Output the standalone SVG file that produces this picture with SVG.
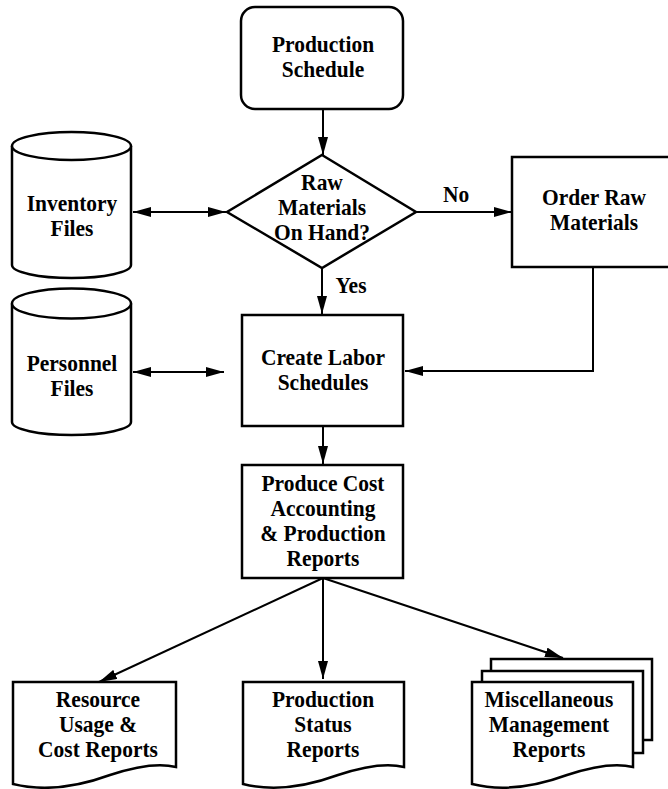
<svg xmlns="http://www.w3.org/2000/svg" width="668" height="789" viewBox="0 0 668 789">
<style>
.shape{fill:#fff;stroke:#000;stroke-width:2.5}
.conn{fill:none;stroke:#000;stroke-width:2}
.t{font-family:"Liberation Serif","Times New Roman",serif;font-weight:bold;font-size:22.5px;fill:#000;text-anchor:middle}
</style>
<defs>
<marker id="ah" viewBox="0 0 18 10" refX="18" refY="5" markerWidth="18" markerHeight="10" markerUnits="userSpaceOnUse" orient="auto-start-reverse">
<path d="M0,0 L18,5 L0,10 z" fill="#000"/>
</marker>
</defs>
<rect width="668" height="789" fill="#fff"/>

<g id="connectors">
<line class="conn" x1="323" y1="109" x2="323" y2="155" marker-end="url(#ah)"/>
<line class="conn" x1="133" y1="212" x2="226" y2="212" marker-start="url(#ah)" marker-end="url(#ah)"/>
<line class="conn" x1="416" y1="212" x2="512" y2="212" marker-end="url(#ah)"/>
<line class="conn" x1="322" y1="268" x2="322" y2="314" marker-end="url(#ah)"/>
<polyline class="conn" points="593,267 593,371 405,371" marker-end="url(#ah)"/>
<line class="conn" x1="133" y1="372" x2="224" y2="372" marker-start="url(#ah)" marker-end="url(#ah)"/>
<line class="conn" x1="323" y1="426" x2="323" y2="464" marker-end="url(#ah)"/>
<line class="conn" x1="323" y1="578" x2="99" y2="682" marker-end="url(#ah)"/>
<line class="conn" x1="323" y1="578" x2="323" y2="679" marker-end="url(#ah)"/>
<line class="conn" x1="323" y1="578" x2="563" y2="658" marker-end="url(#ah)"/>
<text class="t" transform="translate(456 0) scale(0.955 1)" x="0" y="202">No</text>
<text class="t" transform="translate(351 0) scale(0.955 1)" x="0" y="293">Yes</text>
</g>

<g id="production-schedule">
<rect class="shape" x="241" y="7" width="162" height="102" rx="14"/>
<text class="t" transform="translate(323 0) scale(0.955 1)"><tspan x="0" y="52">Production</tspan><tspan x="0" y="77">Schedule</tspan></text>
</g>

<g id="raw-materials-decision">
<polygon class="shape" points="322,155 416,212 322,268 227,212"/>
<text class="t" transform="translate(322 0) scale(0.955 1)"><tspan x="0" y="190">Raw</tspan><tspan x="0" y="215">Materials</tspan><tspan x="0" y="240">On Hand?</tspan></text>
</g>

<g id="inventory-files">
<path class="shape" d="M12,146 V265 A59.5,13 0 0 0 131,265 V146"/>
<ellipse class="shape" cx="71.5" cy="146" rx="59.5" ry="14"/>
<text class="t" transform="translate(72 0) scale(0.955 1)"><tspan x="0" y="211">Inventory</tspan><tspan x="0" y="236">Files</tspan></text>
</g>

<g id="order-raw-materials">
<rect class="shape" x="512" y="157" width="175" height="110"/>
<text class="t" transform="translate(594 0) scale(0.955 1)"><tspan x="0" y="205">Order Raw</tspan><tspan x="0" y="230">Materials</tspan></text>
</g>

<g id="personnel-files">
<path class="shape" d="M12,303.5 V422 A59.5,13 0 0 0 131,422 V303.5"/>
<ellipse class="shape" cx="71.5" cy="303.5" rx="59.5" ry="15"/>
<text class="t" transform="translate(72 0) scale(0.955 1)"><tspan x="0" y="371">Personnel</tspan><tspan x="0" y="396">Files</tspan></text>
</g>

<g id="create-labor-schedules">
<rect class="shape" x="242" y="315" width="161" height="111"/>
<text class="t" transform="translate(323 0) scale(0.955 1)"><tspan x="0" y="365">Create Labor</tspan><tspan x="0" y="390">Schedules</tspan></text>
</g>

<g id="produce-reports">
<rect class="shape" x="242" y="465" width="161" height="113"/>
<text class="t" transform="translate(323 0) scale(0.955 1)"><tspan x="0" y="491">Produce Cost</tspan><tspan x="0" y="516">Accounting</tspan><tspan x="0" y="541">&amp; Production</tspan><tspan x="0" y="566">Reports</tspan></text>
</g>

<g id="resource-usage-report">
<path class="shape" d="M13,682 H176 V767 C160,763 140,765 110,775 C80,786 45,792 13,784 Z"/>
<text class="t" transform="translate(98 0) scale(0.955 1)"><tspan x="0" y="707">Resource</tspan><tspan x="0" y="732">Usage &amp;</tspan><tspan x="0" y="757">Cost Reports</tspan></text>
</g>

<g id="production-status-report">
<path class="shape" d="M243,682 H404 V767 C388,763 368,765 338,775 C308,786 275,792 243,784 Z"/>
<text class="t" transform="translate(323 0) scale(0.955 1)"><tspan x="0" y="707">Production</tspan><tspan x="0" y="732">Status</tspan><tspan x="0" y="757">Reports</tspan></text>
</g>

<g id="misc-management-reports">
<rect class="shape" x="491" y="659" width="161" height="81"/>
<rect class="shape" x="482" y="671" width="161" height="82"/>
<path class="shape" d="M472,682 H633 V767 C617,763 597,765 567,775 C537,786 504,792 472,784 Z"/>
<text class="t" transform="translate(549 0) scale(0.955 1)"><tspan x="0" y="707">Miscellaneous</tspan><tspan x="0" y="732">Management</tspan><tspan x="0" y="757">Reports</tspan></text>
</g>
</svg>
